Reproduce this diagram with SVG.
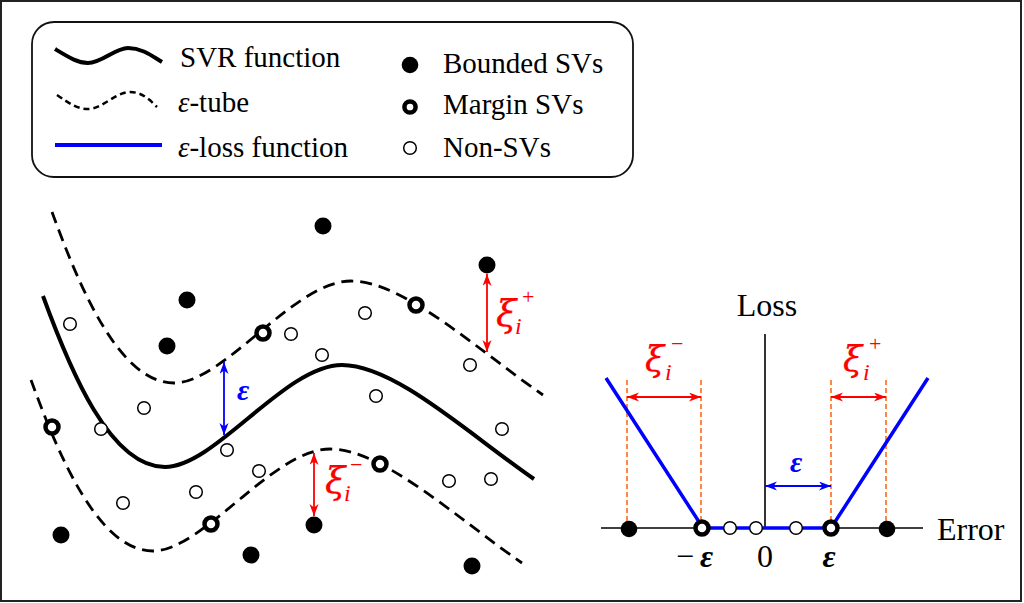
<svg xmlns="http://www.w3.org/2000/svg" width="1024" height="603" viewBox="0 0 1024 603">
<style>
text{font-family:"Liberation Serif","Times New Roman",serif;fill:#000}
.lg{font-size:29px}
.ax{font-size:32px}
.eps{font-weight:bold;font-style:italic}
.xi{font-family:"DejaVu Serif",serif;font-style:italic;fill:#ff0000;stroke:#ff0000;stroke-width:0.25}
.ss{font-family:"Liberation Serif",serif;fill:#ff0000}
.fill{fill:#000}
.marg{fill:#fff;stroke:#000;stroke-width:4.5}
.non{fill:#fff;stroke:#000;stroke-width:1.5}
.svr{fill:none;stroke:#000;stroke-width:4}
.tube{fill:none;stroke:#000;stroke-width:2.8;stroke-dasharray:12 7}
.red{stroke:#ff0000;stroke-width:1.8;fill:none}
.blue{stroke:#0000ff;stroke-width:1.8;fill:none}
.org{stroke:#ff6a1a;stroke-width:1.6;stroke-dasharray:5 3;fill:none}
</style>
<defs>
<marker id="ahr" markerUnits="userSpaceOnUse" markerWidth="13" markerHeight="10" refX="12" refY="4.5" orient="auto-start-reverse"><path d="M0,0 L12,4.5 L0,9 L3.5,4.5 z" fill="#ff0000"/></marker>
<marker id="ahb" markerUnits="userSpaceOnUse" markerWidth="13" markerHeight="10" refX="12" refY="4.5" orient="auto-start-reverse"><path d="M0,0 L12,4.5 L0,9 L3.5,4.5 z" fill="#0000ff"/></marker>
<path id="curve" d="M43,296 C70,370 110,467 165,467 C215,467 285,365 342,365 C395,365 470,435 534,479"/>
</defs>
<rect x="1" y="1" width="1020" height="600" fill="#fff" stroke="#222" stroke-width="2"/>
<g id="legend">
<rect x="32" y="22" width="601" height="155" rx="22" fill="#fff" stroke="#111" stroke-width="1.8"/>
<path d="M55,49 C70,58 78,63 88,63 C102,63 115,48 128,48 C142,48 152,56 162,62" class="svr" stroke-width="3.5"/>
<path d="M57,95 C70,104 78,109 88,109 C102,109 116,92 130,92 C142,92 150,100 157,107" fill="none" stroke="#000" stroke-width="2.5" stroke-dasharray="6 4"/>
<line x1="55" y1="145" x2="162" y2="145" stroke="#0000ff" stroke-width="4"/>
<text class="lg" x="180" y="67">SVR function</text>
<text class="lg" x="178" y="112"><tspan font-style="italic">ε</tspan>-tube</text>
<text class="lg" x="178" y="157"><tspan font-style="italic">ε</tspan>-loss function</text>
<circle cx="410" cy="65" r="8.3" class="fill"/>
<circle cx="410" cy="107" r="5.6" class="marg"/>
<circle cx="410" cy="148" r="6.3" class="non"/>
<text class="lg" x="443" y="73">Bounded SVs</text>
<text class="lg" x="443" y="114">Margin SVs</text>
<text class="lg" x="443" y="157">Non-SVs</text>
</g>
<g id="curves">
<use href="#curve" class="svr"/>
<use href="#curve" class="tube" transform="translate(9,-84)"/>
<use href="#curve" class="tube" transform="translate(-12,84)"/>
</g>
<g id="points">
<circle cx="187" cy="300" r="8.5" class="fill"/>
<circle cx="167" cy="346" r="8.5" class="fill"/>
<circle cx="323" cy="226" r="8.5" class="fill"/>
<circle cx="487" cy="265" r="8.5" class="fill"/>
<circle cx="61" cy="535" r="8.5" class="fill"/>
<circle cx="251" cy="555" r="8.5" class="fill"/>
<circle cx="314" cy="525" r="8.5" class="fill"/>
<circle cx="472" cy="566" r="8.5" class="fill"/>
<circle cx="263" cy="333" r="6.5" class="marg"/>
<circle cx="416" cy="305" r="6.5" class="marg"/>
<circle cx="52" cy="427" r="6.5" class="marg"/>
<circle cx="211" cy="524" r="6.5" class="marg"/>
<circle cx="380" cy="464" r="6.5" class="marg"/>
<circle cx="70" cy="324" r="6.3" class="non"/>
<circle cx="291" cy="334" r="6.3" class="non"/>
<circle cx="365" cy="313" r="6.3" class="non"/>
<circle cx="322" cy="355" r="6.3" class="non"/>
<circle cx="470" cy="365" r="6.3" class="non"/>
<circle cx="376" cy="396" r="6.3" class="non"/>
<circle cx="144" cy="408" r="6.3" class="non"/>
<circle cx="101" cy="429" r="6.3" class="non"/>
<circle cx="227" cy="450" r="6.3" class="non"/>
<circle cx="259" cy="471" r="6.3" class="non"/>
<circle cx="196" cy="492" r="6.3" class="non"/>
<circle cx="123" cy="503" r="6.3" class="non"/>
<circle cx="502" cy="429" r="6.3" class="non"/>
<circle cx="449" cy="481" r="6.3" class="non"/>
<circle cx="491" cy="479" r="6.3" class="non"/>
</g>
<g id="arrows">
<line x1="224" y1="362" x2="224" y2="435" class="blue" marker-start="url(#ahb)" marker-end="url(#ahb)"/>
<line x1="487" y1="274" x2="487" y2="352" class="red" marker-start="url(#ahr)" marker-end="url(#ahr)"/>
<line x1="314" y1="453" x2="314" y2="516" class="red" marker-start="url(#ahr)" marker-end="url(#ahr)"/>
</g>
<g id="labels-left">
<text x="237" y="400" font-size="30" class="eps" style="fill:#0000ff">ε</text>
<text class="xi" x="496" y="326" font-size="37">ξ</text>
<text class="ss" x="522" y="304" font-size="22">+</text>
<text class="ss" x="515" y="334" font-size="24" font-style="italic">i</text>
<text class="xi" x="325" y="493" font-size="37">ξ</text>
<text class="ss" x="350" y="472" font-size="22">−</text>
<text class="ss" x="344" y="501" font-size="24" font-style="italic">i</text>
</g>
<g id="loss-plot">
<line x1="601" y1="528" x2="923" y2="528" stroke="#000" stroke-width="1.6"/>
<line x1="765" y1="334" x2="765" y2="528" stroke="#000" stroke-width="1.6"/>
<line x1="627" y1="380" x2="627" y2="528" class="org"/>
<line x1="701" y1="380" x2="701" y2="528" class="org"/>
<line x1="831" y1="380" x2="831" y2="528" class="org"/>
<line x1="886" y1="380" x2="886" y2="528" class="org"/>
<polyline points="606,378 703,528 831,528 928,378" fill="none" stroke="#0000ff" stroke-width="3.5"/>
<line x1="627" y1="397" x2="701" y2="397" class="red" marker-start="url(#ahr)" marker-end="url(#ahr)"/>
<line x1="831" y1="397" x2="886" y2="397" class="red" marker-start="url(#ahr)" marker-end="url(#ahr)"/>
<line x1="765" y1="486" x2="831" y2="486" class="blue" marker-start="url(#ahb)" marker-end="url(#ahb)"/>
<circle cx="629" cy="529" r="8.3" class="fill"/>
<circle cx="887" cy="529" r="8.3" class="fill"/>
<circle cx="702" cy="528" r="6.5" class="marg"/>
<circle cx="831" cy="528" r="6.5" class="marg"/>
<circle cx="730" cy="528" r="6.3" class="non"/>
<circle cx="756" cy="528" r="6.3" class="non"/>
<circle cx="796" cy="528" r="6.3" class="non"/>
<text class="ax" x="767" y="316" text-anchor="middle">Loss</text>
<text class="ax" x="937" y="540">Error</text>
<text class="ax" x="676" y="567">−<tspan class="eps" dx="6">ε</tspan></text>
<text class="ax" x="765" y="567" text-anchor="middle">0</text>
<text class="ax eps" x="829" y="567" text-anchor="middle">ε</text>
<text x="790" y="472" font-size="30" class="eps" style="fill:#0000ff">ε</text>
<text class="xi" x="645" y="371" font-size="35">ξ</text>
<text class="ss" x="671" y="351" font-size="22">−</text>
<text class="ss" x="665" y="380" font-size="24" font-style="italic">i</text>
<text class="xi" x="843" y="371" font-size="35">ξ</text>
<text class="ss" x="869" y="351" font-size="22">+</text>
<text class="ss" x="863" y="380" font-size="24" font-style="italic">i</text>
</g>
</svg>
